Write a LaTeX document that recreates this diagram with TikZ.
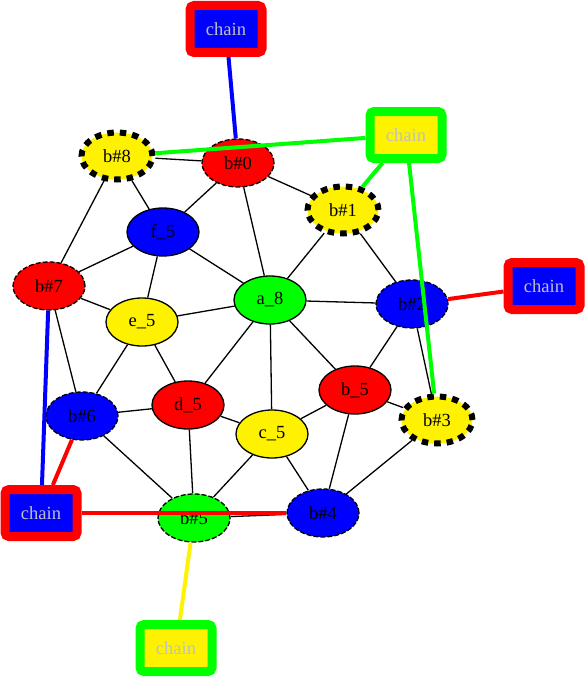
\documentclass[tikz,border=0pt]{standalone}
\usepackage{fontspec}
\setmainfont{Liberation Serif}
\usetikzlibrary{shapes.geometric}
\definecolor{colCadenaTexto}{HTML}{C0C0C0}
\colorlet{colRojo}{red}
\colorlet{colAzul}{blue}
\colorlet{colVerde}{green}
\colorlet{colAmarillo}{yellow}

\begin{document}
\begin{tikzpicture}[x=1pt, y=-1pt, font=\fontsize{18.5}{20}\selectfont,
    nodo/.style={ellipse, draw=black, line width=1.3pt, minimum width=72, minimum height=48, inner sep=0pt},
    rayado/.style={nodo, dash pattern=on 5pt off 2pt},
    grueso/.style={nodo, line width=6pt, minimum width=71, minimum height=47, dash pattern=on 6.5pt off 6pt},
    cadena/.style={rectangle, rounded corners=4pt, line width=9pt, minimum width=72, minimum height=47, inner sep=0pt, outer sep=4.5pt, text=colCadenaTexto},
    enlace/.style={line width=1.3pt},
    enlaceCadena/.style={line width=4pt}]
    \useasboundingbox (0,0) rectangle (586,677);

    % Nodos del grafo
    \node[grueso, fill=colAmarillo] (b8) at (117,156) {b\#8};
    \node[rayado, fill=colRojo] (b0) at (238,163) {b\#0};
    \node[grueso, fill=colAmarillo] (b1) at (343,210) {b\#1};
    \node[nodo, fill=colAzul] (f5) at (163,232) {f\_5};
    \node[rayado, fill=colRojo] (b7) at (49,286) {b\#7};
    \node[nodo, fill=colVerde] (a8) at (270,300) {a\_8};
    \node[rayado, fill=colAzul] (b2) at (412,304) {b\#2};
    \node[nodo, fill=colAmarillo] (e5) at (142,322) {e\_5};
    \node[nodo, fill=colRojo] (bb5) at (355,390) {b\_5};
    \node[nodo, fill=colRojo] (d5) at (188,405) {d\_5};
    \node[rayado, fill=colAzul] (b6) at (82,416) {b\#6};
    \node[grueso, fill=colAmarillo] (b3) at (437,420) {b\#3};
    \node[nodo, fill=colAmarillo] (c5) at (272,434) {c\_5};
    \node[rayado, fill=colAzul] (b4) at (323,513) {b\#4};
    \node[rayado, fill=colVerde] (b5) at (194,518) {b\#5};

    % Aristas
    \draw[enlace] (b8) -- (b0);
    \draw[enlace] (b8) -- (f5);
    \draw[enlace] (b8) -- (b7);
    \draw[enlace] (b0) -- (f5);
    \draw[enlace] (b0) -- (a8);
    \draw[enlace] (b0) -- (b1);
    \draw[enlace] (b1) -- (a8);
    \draw[enlace] (b1) -- (b2);
    \draw[enlace] (f5) -- (b7);
    \draw[enlace] (f5) -- (e5);
    \draw[enlace] (f5) -- (a8);
    \draw[enlace] (b7) -- (e5);
    \draw[enlace] (b7) -- (b6);
    \draw[enlace] (e5) -- (a8);
    \draw[enlace] (e5) -- (b6);
    \draw[enlace] (e5) -- (d5);
    \draw[enlace] (a8) -- (b2);
    \draw[enlace] (a8) -- (d5);
    \draw[enlace] (a8) -- (c5);
    \draw[enlace] (a8) -- (bb5);
    \draw[enlace] (b2) -- (bb5);
    \draw[enlace] (b2) -- (b3);
    \draw[enlace] (b6) -- (d5);
    \draw[enlace] (b6) -- (b5);
    \draw[enlace] (d5) -- (c5);
    \draw[enlace] (d5) -- (b5);
    \draw[enlace] (c5) -- (bb5);
    \draw[enlace] (c5) -- (b5);
    \draw[enlace] (c5) -- (b4);
    \draw[enlace] (bb5) -- (b3);
    \draw[enlace] (bb5) -- (b4);
    \draw[enlace] (b3) -- (b4);
    \draw[enlace] (b5) -- (b4);

    % Cadenas
    \node[cadena, draw=colRojo, fill=colAzul] (cadArriba) at (226,29) {chain};
    \node[cadena, draw=colVerde, fill=colAmarillo] (cadVerde) at (406,135) {chain};
    \node[cadena, draw=colRojo, fill=colAzul] (cadDerecha) at (544,286) {chain};
    \node[cadena, draw=colRojo, fill=colAzul] (cadIzquierda) at (41,513) {chain};
    \node[cadena, draw=colVerde, fill=colAmarillo] (cadAbajo) at (176,648) {chain};

    % Enlaces de cadena
    \draw[enlaceCadena, colAzul] (cadArriba) -- (b0);
    \draw[enlaceCadena, colVerde] (cadVerde) -- (b8);
    \draw[enlaceCadena, colVerde] (cadVerde) -- (b1);
    \draw[enlaceCadena, colVerde] (cadVerde) -- (b3);
    \draw[enlaceCadena, colRojo] (cadDerecha) -- (b2);
    \draw[enlaceCadena, colAzul] (cadIzquierda) -- (b7);
    \draw[enlaceCadena, colRojo] (cadIzquierda) -- (b6);
    \draw[enlaceCadena, colRojo] (cadIzquierda) -- (b4);
    \draw[enlaceCadena, colAmarillo] (cadAbajo) -- (b5);
\end{tikzpicture}
\end{document}
